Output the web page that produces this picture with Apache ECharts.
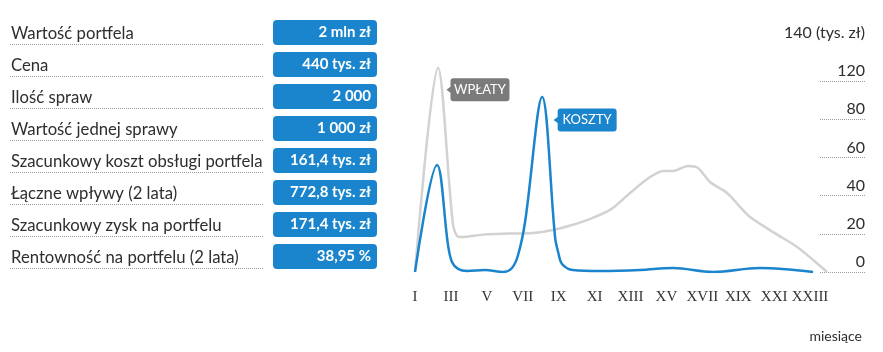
<!DOCTYPE html>
<html><head><meta charset="utf-8">
<script src="https://cdn.jsdelivr.net/npm/echarts@6/dist/echarts.min.js"></script>
<style>html,body{margin:0;padding:0;background:#fff}#c{width:883px;height:352px}</style>
</head><body><div id="c"></div>
<script>
const rowLabels = ['Wartość portfela','Cena','Ilość spraw','Wartość jednej sprawy','Szacunkowy koszt obsługi portfela','Łączne wpływy (2 lata)','Szacunkowy zysk na portfelu','Rentowność na portfelu (2 lata)'];
const rowValues = ['2 mln zł','440 tys. zł','2 000','1 000 zł','161,4 tys. zł','772,8 tys. zł','171,4 tys. zł','38,95 %'];
const monthTickLabels = ['I','III','V','VII','IX','XI','XIII','XV','XVII','XIX','XXI','XXIII'];
const yTickLabels = ['0','20','40','60','80','120','140 (tys. zł)'];
const wplatyMonths = [1, 2.28, 3.12, 3.45, 4.0, 4.9, 6.2, 7.57, 8.69, 9.7, 10.58, 11.86, 12.98, 14.09, 14.82, 15.37, 16.21, 16.76, 17.43, 18.38, 19.11, 19.66, 20.94, 22.28, 23.17, 23.95];
const wplatyValues = [0, 107, 24.6, 18.3, 18.6, 19.7, 20.1, 20.4, 22, 24.5, 27.2, 32.5, 41.4, 49.7, 52.9, 52.9, 55.5, 54.5, 47.1, 41.4, 34.0, 28.8, 20.9, 13.1, 6.3, 0];
const kosztyMonths = [1, 2.23, 2.84, 3.06, 3.40, 3.9, 4.9, 5.9, 6.4, 6.74, 7.13, 8.08, 8.8, 8.97, 9.19, 9.8, 11.3, 13.53, 15.37, 17.6, 20.2, 23.17];
const kosztyValues = [0, 56, 14.1, 5.2, 1.6, 0.5, 1, 0, 2.1, 8.9, 26.2, 91.6, 18.3, 10.5, 4.2, 1, 0.5, 1, 2.1, 0, 2.1, 0];

const BLUE = '#1a84cc', GREY_LINE = '#d2d2d2', GREY_TAG = '#7b7b7b', TEXT = '#2e2e2e';
const tagPath = 'path://M7,0 L60,0 Q63,0 63,3 L63,20 Q63,23 60,23 L7,23 Q4,23 4,20 L4,14.5 L0,11.5 L4,8.5 L4,3 Q4,0 7,0 Z';

function pairs(ms, vs){ return ms.map((m,i)=>[m-1, vs[i]]); }
function peak(ms, vs){ let k=0; vs.forEach((v,i)=>{ if(v>vs[k]) k=i; }); return [ms[k]-1, vs[k]]; }

const chart = echarts.init(document.getElementById('c'));
chart.setOption({
  animation: false,
  backgroundColor: '#fff',
  title: { text: 'miesiące', right: 16, top: 324, textStyle: { fontFamily: 'Lato', fontSize: 14, fontWeight: 'normal', color: TEXT } },
  grid: [
    { left: 10, width: 253, top: 44, height: 224 },
    { left: 273, width: 104, top: 32.5, height: 224 },
    { left: 415, right: 55, top: 42.8, bottom: 80 },
    { left: 820, right: 17, top: 42.8, bottom: 80 }
  ],
  xAxis: [
    { gridIndex: 0, type: 'value', min: 0, max: 1, show: false },
    { gridIndex: 1, type: 'value', min: 0, max: 1, show: false },
    { gridIndex: 2, type: 'value', min: 0, max: 23, interval: 2,
      axisLine: { show: false }, axisTick: { show: false }, splitLine: { show: false },
      axisLabel: { margin: 18, fontFamily: 'Liberation Serif', fontSize: 15, color: '#333',
        formatter: v => (v % 2 === 0 ? (monthTickLabels[v/2] || '') : '') } },
    { gridIndex: 3, type: 'value', min: 0, max: 1, show: false }
  ],
  yAxis: [
    { gridIndex: 0, type: 'category', inverse: true, boundaryGap: false, data: rowLabels,
      axisLine: { show: false }, axisTick: { show: false },
      axisLabel: { inside: true, interval: 0, margin: 1, align: 'left', verticalAlign: 'bottom', padding: [0,0,2,0],
        fontFamily: 'Lato', fontSize: 16.7, color: TEXT },
      splitLine: { show: true, interval: 0, lineStyle: { type: 'dotted', color: '#9a9a9a', width: 1 } } },
    { gridIndex: 1, type: 'category', inverse: true, boundaryGap: false, data: rowLabels, show: false },
    { gridIndex: 2, type: 'value', min: 0, max: 120, interval: 20, show: false },
    { gridIndex: 3, type: 'value', position: 'right', min: 0, max: 120, interval: 20,
      axisLine: { show: false }, axisTick: { show: false },
      axisLabel: { inside: true, margin: 1, verticalAlign: 'bottom', padding: [0,0,2,0],
        fontFamily: 'Lato', fontSize: 16, color: TEXT, formatter: v => yTickLabels[Math.round(v/20)] },
      splitLine: { show: true, showMaxLine: false, lineStyle: { type: 'dotted', color: '#9a9a9a', width: 1 } } }
  ],
  series: [
    { type: 'bar', xAxisIndex: 1, yAxisIndex: 1, silent: true, barWidth: 25,
      data: rowValues.map(() => 1),
      itemStyle: { color: BLUE, borderRadius: 4 },
      label: { show: true, position: 'insideRight', distance: 6, color: '#fff', fontFamily: 'Lato', fontWeight: 'bold', fontSize: 15,
        formatter: p => rowValues[p.dataIndex] } },
    { type: 'line', xAxisIndex: 2, yAxisIndex: 2, silent: true, showSymbol: false, smooth: 0.3,
      data: pairs(wplatyMonths, wplatyValues),
      lineStyle: { color: GREY_LINE, width: 2.5 }, itemStyle: { color: GREY_LINE },
      markPoint: { silent: true, data: [{ coord: peak(wplatyMonths, wplatyValues), symbol: tagPath, symbolSize: [63,23], symbolOffset: [40, 22],
        itemStyle: { color: GREY_TAG },
        label: { show: true, position: 'inside', offset: [2,0], formatter: 'WPŁATY', color: '#fff', fontFamily: 'Lato', fontSize: 13 } }] } },
    { type: 'line', xAxisIndex: 2, yAxisIndex: 2, silent: true, showSymbol: false, smooth: 0.35,
      data: pairs(kosztyMonths, kosztyValues),
      lineStyle: { color: BLUE, width: 2.5 }, itemStyle: { color: BLUE },
      markPoint: { silent: true, data: [{ coord: peak(kosztyMonths, kosztyValues), symbol: tagPath, symbolSize: [63,23], symbolOffset: [43, 23],
        itemStyle: { color: BLUE },
        label: { show: true, position: 'inside', offset: [2,0], formatter: 'KOSZTY', color: '#fff', fontFamily: 'Lato', fontSize: 13 } }] } }
  ]
});
</script></body></html>
